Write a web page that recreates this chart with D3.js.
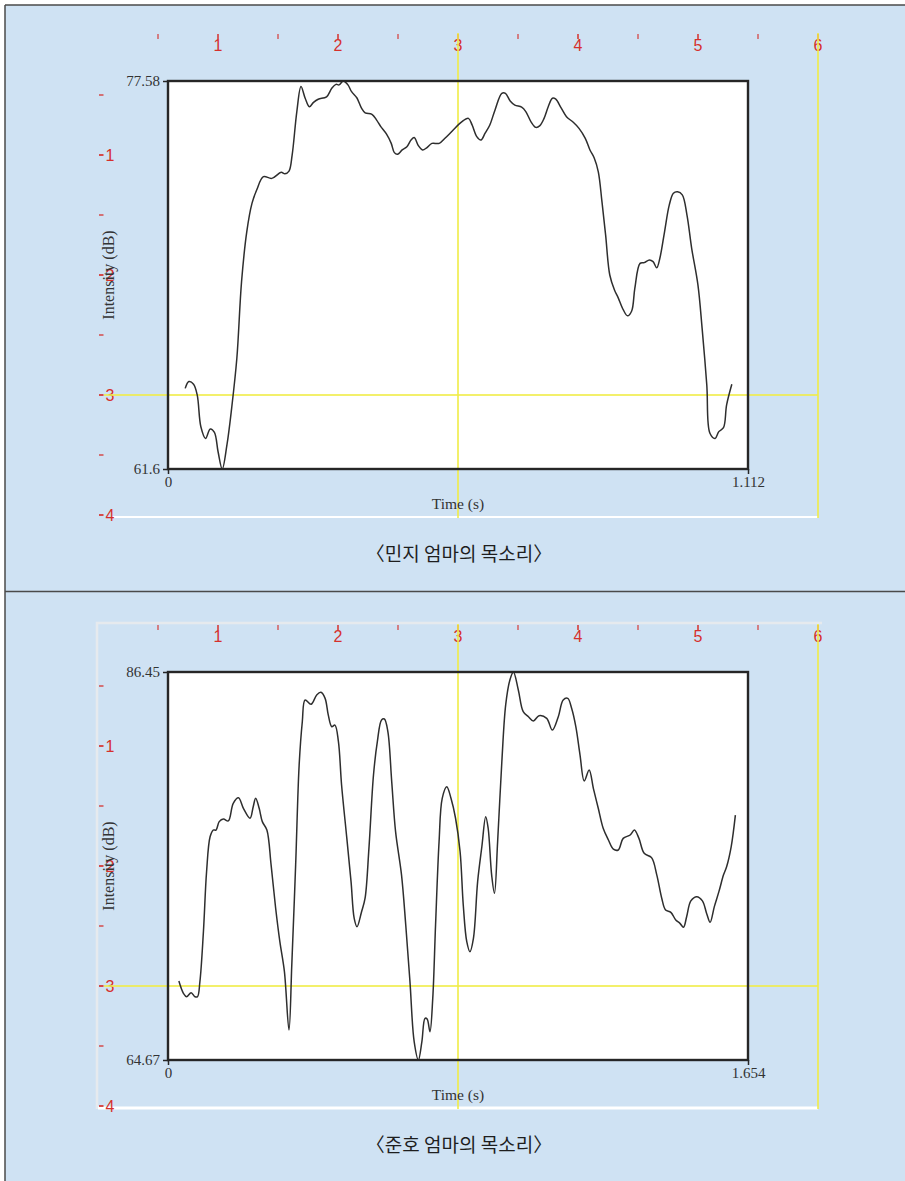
<!DOCTYPE html>
<html>
<head>
<meta charset="utf-8">
<script src="https://cdn.jsdelivr.net/npm/d3@7"></script>
<style>
  body { margin: 0; background: #ffffff; }
</style>
</head>
<body>
<div id="canvas"></div>
<script>
"use strict"

/* Minji's mother: intensity contour, time in seconds and intensity in dB */
let minjiTime = [0.033,0.040,0.049,0.056,0.063,0.072,0.081,0.089,0.096,0.104,
    0.113,0.122,0.132,0.141,0.151,0.161,0.170,0.183,0.199,0.217,
    0.224,0.232,0.238,0.247,0.255,0.263,0.271,0.279,0.288,0.304,
    0.314,0.322,0.328,0.336,0.345,0.352,0.362,0.371,0.378,0.391,
    0.400,0.408,0.419,0.428,0.434,0.440,0.449,0.458,0.466,0.472,
    0.480,0.488,0.496,0.506,0.520,0.531,0.545,
    0.563,0.576,0.583,0.592,0.600,0.608,0.617,0.627,0.640,0.647,
    0.656,0.665,0.678,0.686,0.696,0.705,0.713,0.721,0.729,0.737,
    0.743,0.754,0.764,0.777,0.788,0.800,0.809,0.817,0.825,0.832,
    0.839,0.847,0.856,0.863,0.873,0.881,0.889,0.895,0.905,0.913,
    0.923,0.930,0.937,0.943,0.952,0.961,0.969,0.977,0.986,0.995,
    1.004,1.016,1.024,1.033,1.039,1.049,1.056,1.065,1.071,1.081];
let minjiIntensity = [64.92,65.20,65.09,64.65,63.34,62.86,63.25,63.11,62.31,61.60,
    62.59,64.10,66.16,69.31,71.37,72.54,73.09,73.64,73.57,73.82,
    73.76,73.87,74.53,76.32,77.35,76.87,76.52,76.70,76.83,76.93,
    77.28,77.44,77.42,77.58,77.42,77.14,76.89,76.46,76.27,76.21,
    75.97,75.70,75.39,75.01,74.63,74.56,74.74,74.87,75.15,75.25,
    74.92,74.74,74.83,75.01,75.01,75.22,75.52,
    75.90,76.04,75.77,75.29,75.15,75.43,75.77,76.39,77.07,77.07,
    76.76,76.59,76.50,76.32,75.90,75.67,75.74,76.04,76.52,76.87,
    76.84,76.46,76.11,75.88,75.63,75.22,74.74,74.42,73.84,72.61,
    71.24,69.59,68.97,68.66,68.15,67.91,68.11,69.04,70.07,70.10,
    70.21,70.14,69.89,70.28,71.37,72.47,72.96,73.02,72.89,72.06,
    70.69,69.18,67.40,65.06,63.07,62.86,63.14,63.30,64.24,65.09];
let minjiRange = [61.6, 77.58];
let minjiDuration = 1.112;

/* Junho's mother */
let junhoTime = [0.031,0.044,0.053,0.066,0.077,0.084,0.091,0.101,0.110,0.120,
    0.129,0.137,0.146,0.158,0.172,0.186,0.201,0.215,0.234,0.243,
    0.250,0.260,0.269,0.282,0.294,0.307,0.319,0.332,0.345,0.353,
    0.364,0.374,0.383,0.391,0.408,0.424,0.436,0.448,0.457,0.467,
    0.476,0.486,0.495,0.510,0.522,0.531,0.539,0.552,0.562,0.573,
    0.586,0.597,0.609,0.617,0.627,0.638,0.649,0.666,0.678,0.690,
    0.702,0.714,0.724,0.733,0.739,0.747,0.755,0.763,0.773,0.782,
    0.795,0.807,0.820,0.833,0.842,0.852,0.861,0.871,0.883,0.895,
    0.906,0.913,0.923,0.931,0.940,0.952,0.963,0.975,0.985,0.999,
    1.013,1.028,1.042,1.058,1.080,1.096,1.113,1.127,1.140,1.151,
    1.163,1.175,1.187,1.201,1.213,1.227,1.241,1.256,1.270,1.284,
    1.298,1.318,1.330,1.343,1.358,1.379,1.394,1.408,1.419,1.434,
    1.448,1.460,1.470,1.479,1.491,1.508,1.524,1.536,1.546,1.558,
    1.571,1.584,1.593,1.606,1.618];
let junhoIntensity = [69.10,68.41,68.22,68.45,68.22,68.22,69.07,71.87,75.24,77.20,
    77.58,77.58,78.05,78.20,78.09,79.08,79.39,78.80,78.24,78.89,
    79.36,78.80,78.05,77.58,75.62,73.19,71.31,69.63,66.35,70.00,
    75.62,81.23,83.66,84.88,84.64,85.16,85.31,84.97,84.04,83.38,
    83.47,82.54,80.11,77.11,74.68,72.62,72.15,72.99,73.75,76.55,
    80.67,82.54,83.76,83.81,83.10,80.29,77.49,75.05,72.25,69.07,
    65.70,64.67,65.70,67.01,66.97,66.26,68.13,72.25,76.92,79.36,
    80.01,79.36,78.24,76.36,73.37,71.31,70.75,71.50,74.68,76.64,
    78.33,77.68,75.05,74.03,76.92,81.41,84.60,86.00,86.45,85.44,
    84.22,83.94,83.70,84.00,83.85,83.19,83.94,84.88,84.97,84.41,
    83.38,81.79,80.33,80.95,79.92,78.80,77.68,77.02,76.51,76.46,
    77.11,77.30,77.58,77.11,76.27,76.03,75.05,73.75,73.09,72.96,
    72.53,72.34,72.12,72.71,73.60,73.84,73.60,72.90,72.40,73.28,
    74.12,75.05,75.52,76.64,78.42];
let junhoRange = [64.67, 86.45];
let junhoDuration = 1.654;

/* the stray on-screen ruler that was captured with the charts */
let rulerTopLabels = [1, 2, 3, 4, 5, 6];
let rulerLeftLabels = [1, 2, 3, 4];
let captions = ["〈민지 엄마의 목소리〉", "〈준호 엄마의 목소리〉"];

let red = "#d6302c";
let yellow = "rgba(240, 236, 70, 0.8)";

let drawing = d3.select("#canvas")
    .append("svg")
    .attr("width", 905)
    .attr("height", 1181);

let background = drawing.append("rect")
    .attr("x", 5)
    .attr("y", 5)
    .attr("width", 900)
    .attr("height", 1176)
    .attr("fill", "#cfe2f3");

let frameTop = drawing.append("line")
    .attr("x1", 5).attr("y1", 5)
    .attr("x2", 905).attr("y2", 5)
    .attr("stroke", "#4a4a4a")
    .attr("stroke-width", 1.5);

let frameLeft = drawing.append("line")
    .attr("x1", 5).attr("y1", 5)
    .attr("x2", 5).attr("y2", 1181)
    .attr("stroke", "#4a4a4a")
    .attr("stroke-width", 1.5);

let separator = drawing.append("line")
    .attr("x1", 5).attr("y1", 591.5)
    .attr("x2", 905).attr("y2", 591.5)
    .attr("stroke", "#4a4a4a")
    .attr("stroke-width", 1.5);

function drawPanel(top, times, values, range, duration, caption, framed) {
    let rx = d3.scaleLinear().domain([0, 6]).range([98, 818]);
    let ry = d3.scaleLinear().domain([0, 4]).range([top + 35, top + 515]);
    let x = d3.scaleLinear().domain([0, duration]).range([168, 748]);
    let y = d3.scaleLinear().domain(range).range([top + 469, top + 81]);

    if (framed) {
        drawing.append("path")
            .attr("d", "M" + (rx(0) - 1) + "," + (ry(4) + 3) + "V" + (top + 32) + "H" + (rx(6) + 4))
            .attr("fill", "none")
            .attr("stroke", "#e6eaee")
            .attr("stroke-width", 2.5);
    }

    /* white strip at the bottom of the ruler */
    drawing.append("line")
        .attr("x1", framed ? rx(0) : 112).attr("y1", ry(4) + 2)
        .attr("x2", rx(6)).attr("y2", ry(4) + 2)
        .attr("stroke", "#ffffff")
        .attr("stroke-width", framed ? 3 : 2);

    let plot = drawing.append("rect")
        .attr("x", x(0))
        .attr("y", y(range[1]))
        .attr("width", x(duration) - x(0))
        .attr("height", y(range[0]) - y(range[1]))
        .attr("fill", "#ffffff");

    /* ruler ticks and numbers */
    drawing.append("g").selectAll("line")
        .data(d3.range(1, 13).map(d => d / 2))
        .join("line")
        .attr("x1", d => rx(d)).attr("x2", d => rx(d))
        .attr("y1", top + 34).attr("y2", top + 39)
        .attr("stroke", red)
        .attr("stroke-opacity", d => d % 1 === 0 ? 1 : 0.75)
        .attr("stroke-width", 1.5);

    drawing.append("g").selectAll("text")
        .data(rulerTopLabels)
        .join("text")
        .attr("x", d => rx(d))
        .attr("y", top + 51)
        .attr("text-anchor", "middle")
        .attr("font-family", "Liberation Sans, Arial, sans-serif")
        .attr("font-size", 16)
        .attr("fill", red)
        .text(d => d);

    drawing.append("g").selectAll("line")
        .data(d3.range(1, 9).map(d => d / 2))
        .join("line")
        .attr("x1", 99).attr("x2", 103.5)
        .attr("y1", d => ry(d)).attr("y2", d => ry(d))
        .attr("stroke", red)
        .attr("stroke-opacity", d => d % 1 === 0 ? 1 : 0.75)
        .attr("stroke-width", 1.7);

    drawing.append("g").selectAll("text")
        .data(rulerLeftLabels)
        .join("text")
        .attr("x", 105.5)
        .attr("y", d => ry(d) + 6)
        .attr("font-family", "Liberation Sans, Arial, sans-serif")
        .attr("font-size", 16)
        .attr("fill", red)
        .text(d => d);

    /* yellow guide lines */
    drawing.append("line")
        .attr("x1", rx(3)).attr("y1", top + 33)
        .attr("x2", rx(3)).attr("y2", ry(4) + 3)
        .attr("stroke", yellow)
        .attr("stroke-width", 2);

    drawing.append("line")
        .attr("x1", rx(6)).attr("y1", top + 33)
        .attr("x2", rx(6)).attr("y2", ry(4) + 3)
        .attr("stroke", yellow)
        .attr("stroke-width", 2);

    drawing.append("line")
        .attr("x1", 104).attr("y1", ry(3))
        .attr("x2", rx(6)).attr("y2", ry(3))
        .attr("stroke", yellow)
        .attr("stroke-width", 2);

    /* intensity contour */
    let contour = d3.line()
        .x(d => x(d[0]))
        .y(d => y(d[1]))
        .curve(d3.curveCatmullRom.alpha(0.5));

    drawing.append("path")
        .attr("d", contour(d3.zip(times, values)))
        .attr("fill", "none")
        .attr("stroke", "#2e2e2e")
        .attr("stroke-width", 1.5);

    let plotBorder = drawing.append("rect")
        .attr("x", x(0))
        .attr("y", y(range[1]))
        .attr("width", x(duration) - x(0))
        .attr("height", y(range[0]) - y(range[1]))
        .attr("fill", "none")
        .attr("stroke", "#262626")
        .attr("stroke-width", 2.4);

    /* axes: only the end values are labelled */
    let xAxis = drawing.append("g")
        .attr("transform", "translate(0," + y(range[0]) + ")")
        .call(d3.axisBottom(x).tickValues([0, duration]).tickSize(5).tickPadding(2).tickFormat(String));

    let yAxis = drawing.append("g")
        .attr("transform", "translate(" + x(0) + ",0)")
        .call(d3.axisLeft(y).tickValues(range).tickSize(5).tickPadding(3).tickFormat(String));

    [xAxis, yAxis].forEach(function (axis) {
        axis.select(".domain").remove();
        axis.selectAll("line").attr("stroke", "#262626").attr("stroke-width", 1.5);
        axis.selectAll("text")
            .attr("font-family", "Liberation Serif, Times New Roman, serif")
            .attr("font-size", 15)
            .attr("fill", "#333333");
    });

    drawing.append("text")
        .attr("x", (x(0) + x(duration)) / 2)
        .attr("y", top + 509)
        .attr("text-anchor", "middle")
        .attr("font-family", "Liberation Serif, Times New Roman, serif")
        .attr("font-size", 15.5)
        .attr("fill", "#333333")
        .text("Time (s)");

    drawing.append("text")
        .attr("transform", "translate(" + 114 + "," + (top + 275) + ") rotate(-90)")
        .attr("text-anchor", "middle")
        .attr("font-family", "Liberation Serif, Times New Roman, serif")
        .attr("font-size", 16)
        .attr("fill", "#333333")
        .text("Intensity (dB)");

    drawing.append("text")
        .attr("x", 459)
        .attr("y", top + 561)
        .attr("text-anchor", "middle")
        .attr("font-family", "Noto Sans CJK KR, sans-serif")
        .attr("font-size", 19)
        .attr("fill", "#1e1e1e")
        .text(caption);
}

drawPanel(0, minjiTime, minjiIntensity, minjiRange, minjiDuration, captions[0], false);
drawPanel(591, junhoTime, junhoIntensity, junhoRange, junhoDuration, captions[1], true);
</script>
</body>
</html>
